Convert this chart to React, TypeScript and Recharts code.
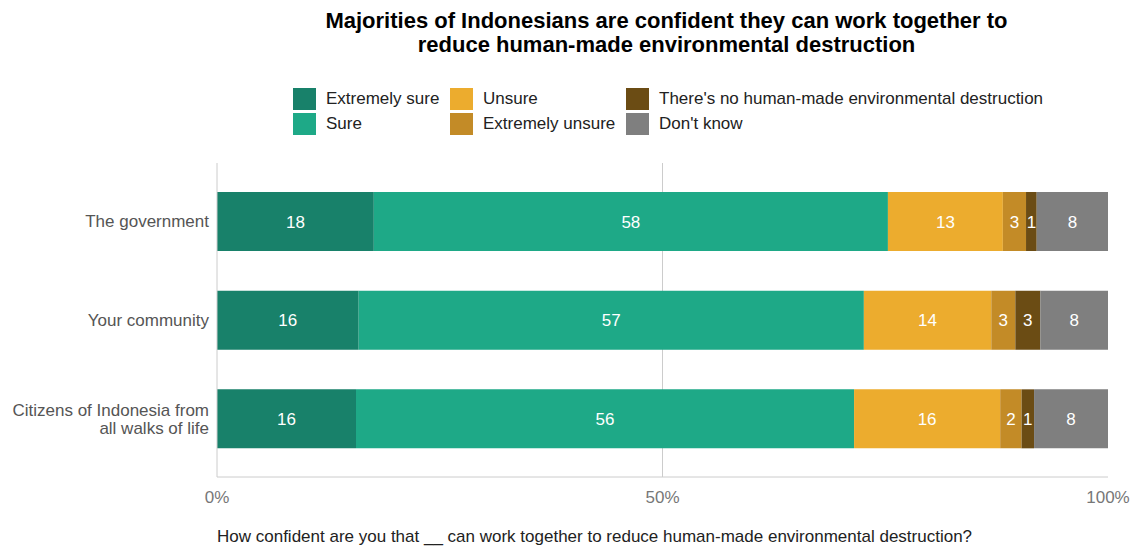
import { BarChart, Bar, XAxis, YAxis, LabelList, CartesianGrid } from 'recharts';

const categories = ['The government', 'Your community', 'Citizens of Indonesia from all walks of life'];
const categoryLines = [['The government'], ['Your community'], ['Citizens of Indonesia from', 'all walks of life']];

const extremelySure = [17.6, 15.9, 15.6];
const sure = [57.7, 56.7, 55.9];
const unsure = [12.9, 14.3, 16.4];
const extremelyUnsure = [2.6, 2.7, 2.4];
const noDestruction = [1.2, 2.8, 1.4];
const dontKnow = [8.0, 7.6, 8.3];

const xTicks = [0, 0.5, 1];

const series = [
    { key: 'extremelySure', name: 'Extremely sure', color: '#18816a', values: extremelySure },
    { key: 'sure', name: 'Sure', color: '#1ea987', values: sure },
    { key: 'unsure', name: 'Unsure', color: '#ecac2e', values: unsure },
    { key: 'extremelyUnsure', name: 'Extremely unsure', color: '#c38b27', values: extremelyUnsure },
    { key: 'noDestruction', name: "There's no human-made environmental destruction", color: '#6b4c14', values: noDestruction },
    { key: 'dontKnow', name: "Don't know", color: '#7f7f7f', values: dontKnow },
];

const data = categories.map((c, i) => {
    const row: any = { name: c };
    series.forEach((s) => { row[s.key] = s.values[i]; });
    return row;
});

const FONT = '"Liberation Sans", Arial, Helvetica, sans-serif';

const YTick = ({ x, y, payload, index }: any) => {
    const lines: string[] = categoryLines[index] || [payload.value];
    const start = -((lines.length - 1) * 18) / 2;
    return (
        <text x={x} y={y} textAnchor="end" fill="#555" fontSize={17} fontFamily={FONT} dominantBaseline="central">
            {lines.map((l, i) => (
                <tspan key={i} x={x} dy={i === 0 ? start : 18}>{l}</tspan>
            ))}
        </text>
    );
};

// legend laid out in three columns like the original
const legendCols = [
    { left: 293, items: [series[0], series[1]] },
    { left: 450, items: [series[2], series[3]] },
    { left: 626, items: [series[4], series[5]] },
];

function App() {
    return (
        <div style={{ position: 'absolute', left: 0, top: 0, width: 1133, height: 548, background: '#fff', fontFamily: FONT }}>
            <div style={{ position: 'absolute', left: 0, width: 1133, top: 9, textAlign: 'center', fontWeight: 'bold', fontSize: 22, lineHeight: '24px', color: '#000', paddingLeft: 200, boxSizing: 'border-box' }}>
                Majorities of Indonesians are confident they can work together to<br />reduce human-made environmental destruction
            </div>
            {legendCols.map((col, ci) => (
                <div key={ci} style={{ position: 'absolute', left: col.left, top: 86 }}>
                    {col.items.map((s) => (
                        <div key={s.key} style={{ display: 'flex', alignItems: 'center', height: 25 }}>
                            <div style={{ width: 23, height: 22, background: s.color, marginRight: 10 }} />
                            <span style={{ fontSize: 17, color: '#222', whiteSpace: 'nowrap' }}>{s.name}</span>
                        </div>
                    ))}
                </div>
            ))}
            <div style={{ position: 'absolute', left: 0, top: 0 }}>
                <BarChart width={1133} height={548} data={data} layout="vertical" stackOffset="expand"
                    margin={{ top: 163, right: 25, bottom: 41, left: 8 }}>
                    <CartesianGrid horizontal={false} vertical={true} verticalValues={[0.5]} stroke="#ccc" />
                    <XAxis type="number" domain={[0, 1]} ticks={xTicks} tickFormatter={(v: number) => `${Math.round(v * 100)}%`}
                        stroke="#ccc" tickLine={false} tickMargin={8} height={30}
                        tick={{ fill: '#777', fontSize: 17, fontFamily: FONT }} />
                    <YAxis type="category" dataKey="name" width={209} stroke="#ccc" tickLine={false}
                        padding={{ top: 9, bottom: 9 }} tick={<YTick />} />
                    {series.map((s) => (
                        <Bar key={s.key} dataKey={s.key} name={s.name} stackId="a" fill={s.color} barSize={59} isAnimationActive={false}>
                            <LabelList dataKey={s.key} position="center" fill="#fff" fontSize={17} fontFamily={FONT}
                                formatter={(v: any) => Math.round(Number(v))} />
                        </Bar>
                    ))}
                </BarChart>
            </div>
            <div style={{ position: 'absolute', left: 217, top: 527, fontSize: 17, color: '#222', whiteSpace: 'nowrap' }}>
                How confident are you that __ can work together to reduce human-made environmental destruction?
            </div>
        </div>
    );
}

export default App;
